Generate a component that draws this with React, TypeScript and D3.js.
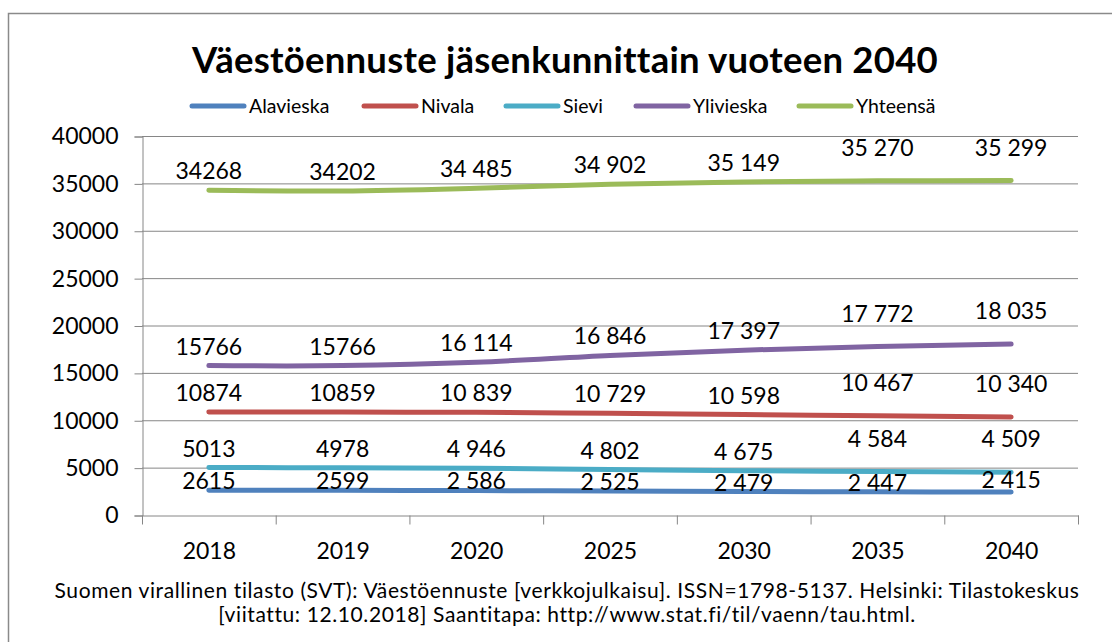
import { useEffect, useRef } from "react";
import * as d3 from "d3";

const years = ["2018", "2019", "2020", "2025", "2030", "2035", "2040"];
const alavieska = [2615, 2599, 2586, 2525, 2479, 2447, 2415];
const nivala = [10874, 10859, 10839, 10729, 10598, 10467, 10340];
const sievi = [5013, 4978, 4946, 4802, 4675, 4584, 4509];
const ylivieska = [15766, 15766, 16114, 16846, 17397, 17772, 18035];
const yhteensa = [34268, 34202, 34485, 34902, 35149, 35270, 35299];
const seriesNames = ["Alavieska", "Nivala", "Sievi", "Ylivieska", "Yhteensä"];
const yTicks = [0, 5000, 10000, 15000, 20000, 25000, 30000, 35000, 40000];
// the first two years are written without a thousands space in the source
const plainYears = ["2018", "2019"];

const title = "Väestöennuste jäsenkunnittain vuoteen 2040";
const sourceLines = [
  "Suomen virallinen tilasto (SVT): Väestöennuste [verkkojulkaisu]. ISSN=1798-5137. Helsinki: Tilastokeskus",
  "[viitattu: 12.10.2018] Saantitapa: http://www.stat.fi/til/vaenn/tau.html.",
];

const colors = ["#4F81BD", "#C0504D", "#4BACC6", "#8064A2", "#9BBB59"];
const font = "Lato, 'Open Sans', sans-serif";

export default function App() {
  const ref = useRef<SVGSVGElement>(null);

  useEffect(() => {
    document.body.style.margin = "0";
    const width = 1112;
    const height = 642;
    const margin = { top: 136, right: 34, bottom: 127, left: 142 };

    const svg = d3.select(ref.current).html("");
    svg.attr("width", width).attr("height", height).style("font-family", font);

    svg.append("rect")
      .attr("x", 8.5).attr("y", 13.5)
      .attr("width", width + 20).attr("height", height + 20)
      .attr("fill", "#fff").attr("stroke", "#8a8a8a").attr("stroke-width", 1.5);

    const values = [alavieska, nivala, sievi, ylivieska, yhteensa];
    const series = seriesNames.map((name, i) => ({ name, color: colors[i], values: values[i] }));

    const x = d3.scaleBand().domain(years).range([margin.left, width - margin.right]);
    const cx = (d: string) => (x(d) ?? 0) + x.bandwidth() / 2;
    const y = d3.scaleLinear().domain([0, 40000]).range([height - margin.bottom, margin.top]);

    // gridlines
    svg.append("g")
      .selectAll("line")
      .data(yTicks.filter(t => t > 0))
      .join("line")
      .attr("x1", margin.left).attr("x2", width - margin.right)
      .attr("y1", d => y(d) + 0.5).attr("y2", d => y(d) + 0.5)
      .attr("stroke", "#868686").attr("stroke-width", 1);

    const yAxis = svg.append("g")
      .attr("transform", `translate(${margin.left + 0.5},0.5)`)
      .call(d3.axisLeft(y).tickValues(yTicks).tickSize(8).tickPadding(16).tickFormat(d => String(d)));
    yAxis.selectAll("text").attr("font-size", "23px").attr("fill", "#000").attr("font-family", font);
    yAxis.selectAll("line, path").attr("stroke", "#868686");

    const xAxis = svg.append("g")
      .attr("transform", `translate(0.5,${height - margin.bottom + 0.5})`)
      .call(d3.axisBottom(x).tickSize(0).tickPadding(27));
    xAxis.selectAll("text").attr("font-size", "23px").attr("fill", "#000").attr("font-family", font);
    xAxis.select("path").attr("stroke", "#868686");
    xAxis.append("g")
      .selectAll("line")
      .data([...years.map(d => x(d) ?? 0), width - margin.right])
      .join("line")
      .attr("x1", d => d).attr("x2", d => d)
      .attr("y1", 0).attr("y2", 9)
      .attr("stroke", "#868686");

    const line = d3.line<number>()
      .x((_, i) => cx(years[i]))
      .y(d => y(d))
      .curve(d3.curveCardinal.tension(0));

    svg.append("g")
      .selectAll("path")
      .data(series)
      .join("path")
      .attr("d", d => line(d.values))
      .attr("fill", "none")
      .attr("stroke", d => d.color)
      .attr("stroke-width", 5)
      .attr("stroke-linecap", "round")
      .attr("stroke-linejoin", "round");

    const spaced = d3.formatLocale({ decimal: ",", thousands: " ", grouping: [3], currency: ["", "€"] }).format(",d");
    const labelDy = (s: number, i: number) => {
      if (s === 0) return i === years.length - 1 ? -4 : -1;
      if (i >= years.length - 2) return -25;
      return -11;
    };

    const labels = svg.append("g")
      .attr("font-size", "23px")
      .attr("text-anchor", "middle")
      .attr("fill", "#000");
    series.forEach((s, si) => {
      labels.selectAll(null)
        .data(s.values)
        .join("text")
        .attr("x", (_, i) => cx(years[i]))
        .attr("y", (d, i) => y(d) + labelDy(si, i))
        .text((d, i) => (plainYears.includes(years[i]) ? String(d) : spaced(d)));
    });

    // title
    svg.append("text")
      .attr("x", 565).attr("y", 73)
      .attr("text-anchor", "middle")
      .attr("font-size", "36.5px").attr("font-weight", "bold")
      .attr("letter-spacing", "0.25px")
      .text(title);

    // legend
    const legendX = [190, 362, 504, 634, 797];
    const legend = svg.append("g")
      .selectAll("g")
      .data(series)
      .join("g")
      .attr("transform", (_, i) => `translate(${legendX[i]},106)`);
    legend.append("line")
      .attr("x1", 2).attr("x2", 54)
      .attr("stroke", d => d.color).attr("stroke-width", 5).attr("stroke-linecap", "round");
    legend.append("text")
      .attr("x", 59).attr("y", 7)
      .attr("font-size", "19.5px")
      .text(d => d.name);

    svg.append("g")
      .selectAll("text")
      .data(sourceLines)
      .join("text")
      .attr("x", 567).attr("y", (_, i) => 598 + i * 24)
      .attr("text-anchor", "middle")
      .attr("font-size", "21px")
      .attr("letter-spacing", "0.6px")
      .text(d => d);
  }, []);

  return <svg ref={ref} style={{ display: "block" }} />;
}
